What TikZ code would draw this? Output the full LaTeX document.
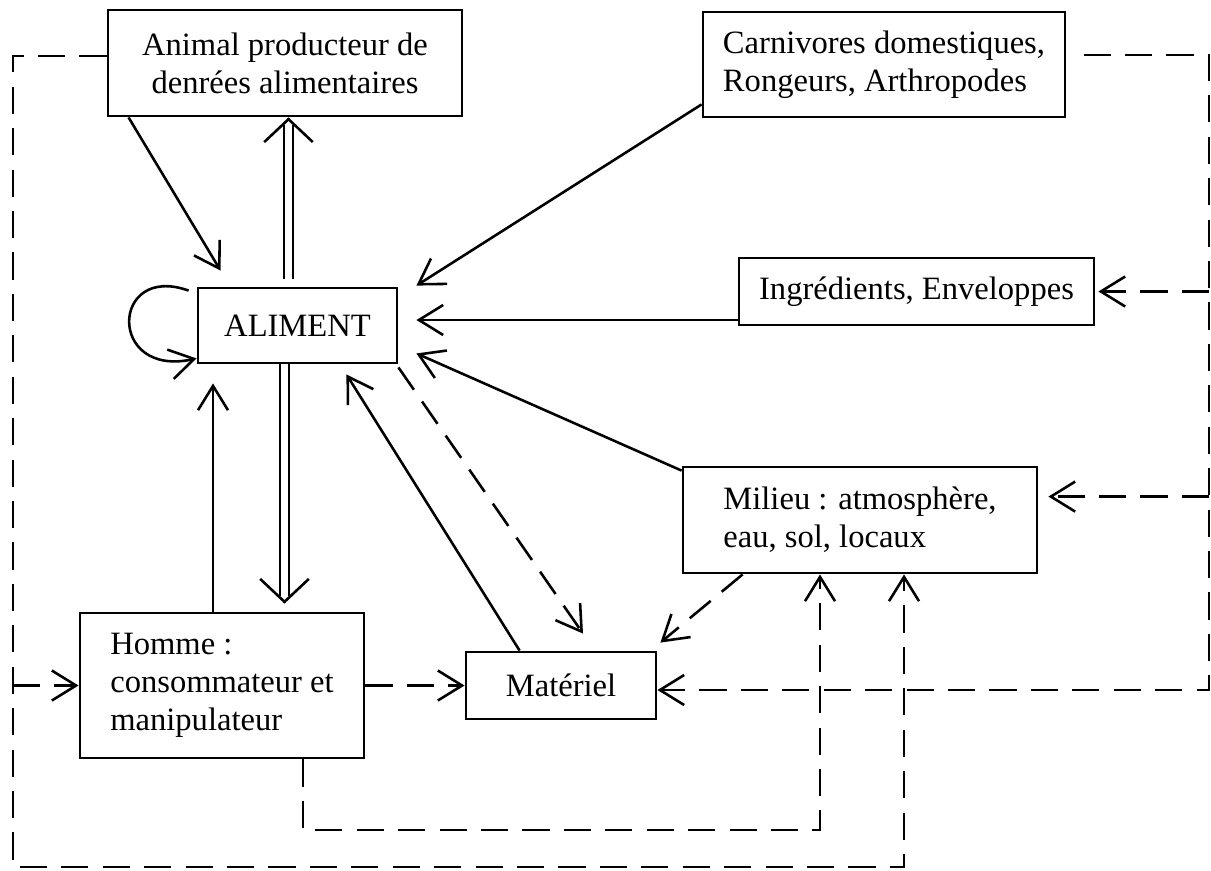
\documentclass[tikz,border=0pt]{standalone}
\usepackage{fontspec}
\setmainfont{Liberation Serif}
\usetikzlibrary{arrows.meta, positioning, calc}

\begin{document}
\begin{tikzpicture}[x=0.35pt, y=0.35pt,
    box/.style={draw, line width=1pt, align=left, inner sep=0pt,
                font=\fontsize{11.4}{13.3}\selectfont},
    arr/.style={line width=0.9pt, -{Straight Barb[length=8.5pt, width=10.5pt]}},
    dasharr/.style={arr, dash pattern=on 9.5pt off 5pt},
    dbl/.style={double, line width=0.6pt, double distance=2.5pt, shorten >=2.5pt},
    dbltip/.style={line width=0.9pt, -{Straight Barb[length=8pt, width=17pt]}}]
    \useasboundingbox (0,0) rectangle (1211,-870);

    % Define the seven boxes
    \node[box, align=center, minimum width=123.9pt, minimum height=37.1pt] (animal) at (285,-63)
        {Animal producteur de\\denrées alimentaires};
    \node[box, minimum width=126.7pt, minimum height=36.75pt] (carni) at (884,-64.5)
        {Carnivores domestiques,\\Rongeurs, Arthropodes};
    \node[box, minimum width=124.25pt, minimum height=23.45pt] (ingr) at (916.5,-291.5)
        {Ingrédients, Enveloppes};
    \node[box, minimum width=69.65pt, minimum height=26.25pt] (aliment) at (297.5,-325.5)
        {ALIMENT};
    \node[box, minimum width=123.9pt, minimum height=37.1pt] (milieu) at (860,-520)
        {Milieu : atmosphère,\\eau, sol, locaux};
    \node[box, minimum width=99.4pt, minimum height=50.75pt] (homme) at (222,-685.5)
        {Homme :\\consommateur et\\manipulateur};
    \node[box, minimum width=66.5pt, minimum height=23.45pt] (materiel) at (561,-685.5)
        {Matériel};

    % Solid arrows into ALIMENT
    \coordinate (atip) at ($(aliment.east)+(18,5.5)$);
    \draw[arr] ($(animal.south west)+(22,0)$) -- ($(aliment.north west)+(24,16)$);
    \draw[arr] ($(carni.south west)+(0,14)$) -- ($(aliment.north east)+(18,1)$);
    \draw[arr] (ingr.west |- atip) -- (atip);
    \draw[arr] ($(milieu.north west)+(0,-5)$) -- ($(aliment.south east)+(18,11)$);
    \draw[arr] ($(materiel.north west)+(55,0)$) -- ($(aliment.south east)+(-52,-10)$);
    \draw[arr] ($(homme.north)+(-9,0)$) -- ($(aliment.south)+(-84.5,-19)$);
    \draw[arr] ($(aliment.north west)+(-8,-4)$) .. controls +(-78,28) and +(-90,-20)
        .. ($(aliment.south west)+(0,6)$);

    % Double arrows out of ALIMENT
    \coordinate (upx) at ($(aliment.north)+(-9,8)$);
    \coordinate (uptip) at ($(animal.south)+(3.5,0)$);
    \draw[dbl] (upx) -- (uptip);
    \draw[dbltip] ($(uptip)+(0,-1)$) -- (uptip);
    \coordinate (dnx) at ($(aliment.south)+(-13,0)$);
    \coordinate (dntip) at ($(homme.north)+(62.5,8)$);
    \draw[dbl] (dnx) -- (dntip);
    \draw[dbltip] ($(dntip)+(0,1)$) -- (dntip);

    % Dashed arrows into Materiel
    \draw[dasharr] ($(aliment.south east)+(0,-3)$) -- ($(materiel.north)+(22,17)$);
    \draw[dasharr] ($(milieu.south west)+(61,0)$) -- ($(materiel.north east)+(3,8)$);
    \draw[dasharr] (homme.east) -- (materiel.west);

    % Dashed return line on the right
    \coordinate (rtop) at (1209,-55);
    \coordinate (rbot) at (1209,-690);
    \coordinate (itip) at ($(ingr.east)+(3,0)$);
    \coordinate (mtip) at ($(milieu.north east)+(10,-31)$);
    \draw[dasharr, shorten <=6pt] ($(carni.east)+(0,9.5)$) -- (rtop) -- (rbot)
        -- ($(materiel.east)+(0,-4.5)$);
    \draw[dasharr] (rtop |- itip) -- (itip);
    \draw[dasharr] (rtop |- mtip) -- (mtip);

    % Dashed lines round the bottom and the left
    \coordinate (ltop) at (13,-56);
    \coordinate (lbot) at (13,-867);
    \coordinate (btm) at (904,-867);
    \draw[dasharr] ($(animal.west)+(0,7)$) -- (ltop) -- (lbot) -- (btm) -- (btm |- milieu.south);
    \draw[dasharr] (ltop |- homme.west) -- (homme.west);
    \coordinate (hbot) at ($(homme.south)+(81,0)$);
    \coordinate (ibot) at (820,-830);
    \draw[dasharr] (hbot) -- (hbot |- ibot) -- (ibot) -- (ibot |- milieu.south);
\end{tikzpicture}
\end{document}
